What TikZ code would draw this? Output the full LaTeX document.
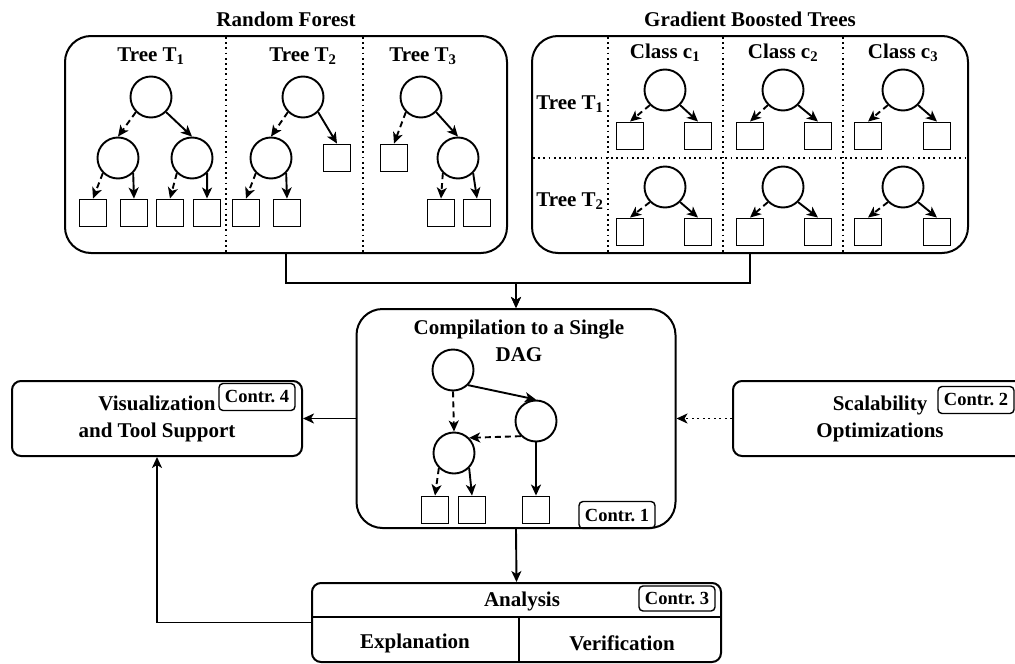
\documentclass[tikz,border=0pt]{standalone}
\usepackage{fontspec}
\setmainfont{Liberation Serif}
\usetikzlibrary{arrows.meta}

\begin{document}
\begin{tikzpicture}[x=1pt, y=-1pt,
  every node/.style={font=\bfseries\fontsize{21}{27}\selectfont, inner sep=0pt},
  panel/.style={draw, line width=2pt, rounded corners=26pt},
  box/.style={draw, line width=2pt, rounded corners=9pt, align=center},
  tag/.style={draw, line width=1.4pt, rounded corners=4pt,
    font=\bfseries\fontsize{18.5}{20}\selectfont,
    minimum width=76pt, minimum height=27pt},
  inode/.style={circle, draw, line width=1.9pt, minimum size=41pt},
  leaf/.style={rectangle, draw, line width=1.9pt, minimum size=27pt},
  edge/.style={line width=1.9pt, -{Stealth[length=11pt, width=10pt, inset=3pt]}},
  dashedge/.style={edge, dash pattern=on 6pt off 4pt},
  dotedge/.style={edge, dash pattern=on 2pt off 3.5pt},
  divider/.style={line width=1.8pt, dash pattern=on 1.8pt off 3.4pt},
  plain/.style={line width=2pt}
]
\clip (0,0) rectangle (1015,664);

% ---------------- Random Forest ----------------
\node (rft) at (286,19) {Random Forest};
\node[panel, minimum width=442pt, minimum height=217pt] (rf) at (286,144.5) {};
\draw[divider] (226,37) -- (226,252);
\draw[divider] (363,37) -- (363,252);
\node (rfl1) at (151,56) {Tree T\textsubscript{1}};
\node (rfl2) at (303,56) {Tree T\textsubscript{2}};
\node (rfl3) at (423,56) {Tree T\textsubscript{3}};

% tree T1
\node[inode] (a1) at (151,97) {};
\node[inode] (a1l) at (118,158) {};
\node[inode] (a1r) at (192,158) {};
\node[leaf] (a1ll) at (93,213) {};
\node[leaf] (a1lr) at (134,213) {};
\node[leaf] (a1rl) at (170,213) {};
\node[leaf] (a1rr) at (207,213) {};
\draw[dashedge] (a1.south west) -- (a1l.north);
\draw[edge] (a1.south east) -- (a1r.north);
\draw[dashedge] (a1l.south west) -- (a1ll.north);
\draw[edge] (a1l.south east) -- (a1lr.north);
\draw[dashedge] (a1r.south west) -- (a1rl.north);
\draw[edge] (a1r.south east) -- (a1rr.north);

% tree T2
\node[inode] (a2) at (303,97) {};
\node[inode] (a2l) at (271,158) {};
\node[leaf] (a2r) at (337,158) {};
\node[leaf] (a2ll) at (246,213) {};
\node[leaf] (a2lr) at (287,213) {};
\draw[dashedge] (a2.south west) -- (a2l.north);
\draw[edge] (a2.south east) -- (a2r.north);
\draw[dashedge] (a2l.south west) -- (a2ll.north);
\draw[edge] (a2l.south east) -- (a2lr.north);

% tree T3
\node[inode] (a3) at (421,97) {};
\node[leaf] (a3l) at (394,158) {};
\node[inode] (a3r) at (458,158) {};
\node[leaf] (a3rl) at (441,213) {};
\node[leaf] (a3rr) at (477,213) {};
\draw[dashedge] (a3.south west) -- (a3l.north);
\draw[edge] (a3.south east) -- (a3r.north);
\draw[dashedge] (a3r.south west) -- (a3rl.north);
\draw[edge] (a3r.south east) -- (a3rr.north);

% ---------------- Gradient Boosted Trees ----------------
\node (gbt) at (750,19) {Gradient Boosted Trees};
\node[panel, minimum width=436pt, minimum height=217pt] (gb) at (750,144.5) {};
\draw[divider] (608,37) -- (608,252);
\draw[divider] (723,37) -- (723,252);
\draw[divider] (843,37) -- (843,252);
\draw[divider] (533,158) -- (967,158);
\node (gc1) at (665,53) {Class c\textsubscript{1}};
\node (gc2) at (783,53) {Class c\textsubscript{2}};
\node (gc3) at (903,53) {Class c\textsubscript{3}};
\node (gt1) at (570,104) {Tree T\textsubscript{1}};
\node (gt2) at (570,201) {Tree T\textsubscript{2}};

\foreach \cx/\lx/\rx [count=\i] in {665/630/698, 783/750/818, 903/868/937} {
  \foreach \cy/\ly [count=\j] in {90/136, 187/232} {
    \node[inode] (g\i\j) at (\cx,\cy) {};
    \node[leaf] (gl\i\j) at (\lx,\ly) {};
    \node[leaf] (gr\i\j) at (\rx,\ly) {};
    \draw[dashedge] (g\i\j.south west) -- (gl\i\j.north);
    \draw[edge] (g\i\j.south east) -- (gr\i\j.north);
  }
}

% ---------------- Compilation ----------------
\node[panel, minimum width=319pt, minimum height=219pt] (cmp) at (516,418.5) {};
\node[align=center] (cmpt) at (519,341) {Compilation to a Single\\DAG};
\node[inode] (d1) at (453,370) {};
\node[inode] (d2) at (536,421) {};
\node[inode] (d3) at (454,453) {};
\node[leaf] (e1) at (435,510) {};
\node[leaf] (e2) at (472,510) {};
\node[leaf] (e3) at (536,510) {};
\draw[dashedge] (d1.south) -- (d3.north);
\draw[edge] (d1.south east) -- (d2.north);
\draw[dashedge] (d2.south west) -- (d3.north east);
\draw[dashedge] (d3.south west) -- (e1.north);
\draw[edge] (d3.south east) -- (e2.north);
\draw[edge] (d2.south) -- (e3.north);
\node[tag] (c1) at (617,515) {Contr.~1};

% ---------------- Side boxes ----------------
\node[box, minimum width=290pt, minimum height=75pt] (vis) at (157,418.5)
  {Visualization\\and Tool Support};
\node[tag] (c4) at (257,397) {Contr.~4};

\node[box, minimum width=294pt, minimum height=75pt] (scal) at (880,418.5)
  {Scalability\\Optimizations};
\node[tag] (c2) at (976,400) {Contr.~2};

% ---------------- Analysis ----------------
\node[box, minimum width=409pt, minimum height=79pt] (an) at (516.5,622.5) {};
\draw[plain] (312,617) -- (721,617);
\draw[plain] (519,617) -- (519,662);
\node (ant) at (522,601) {Analysis};
\node (anx) at (415,643) {Explanation};
\node (anv) at (622,643) {Verification};
\node[tag, minimum height=25pt] (c3) at (677,598.5) {Contr.~3};

% ---------------- Connectors ----------------
\draw[edge] (rf.south) -- ++(0,29) -| (cmp.north);
\draw[edge] (gb.south) -- ++(0,29) -| (cmp.north);
\draw[edge] (cmp.west) -- (vis.east);
\draw[dotedge] (scal.west) -- (cmp.east);
\draw[edge] (cmp.south) -- (an.north);
\draw[edge] (an.west) -| (vis.south);
\end{tikzpicture}
\end{document}
